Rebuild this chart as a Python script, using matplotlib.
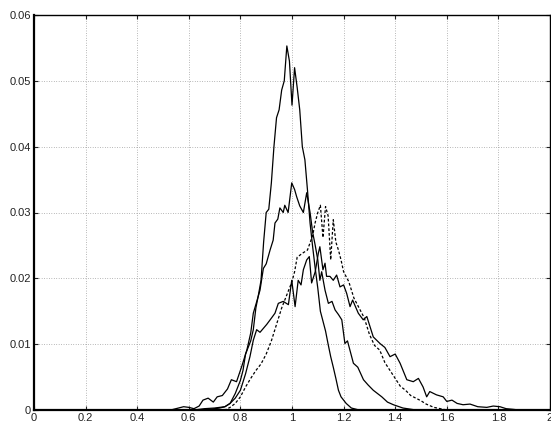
import matplotlib
matplotlib.use("Agg")
import matplotlib.pyplot as plt
import numpy as np

plt.rcParams['font.family'] = ['Liberation Sans', 'DejaVu Sans']

# tall narrow histogram (solid)
x_a = [0.0, 0.66, 0.70, 0.72, 0.74, 0.76, 0.78, 0.80, 0.81, 0.82, 0.84, 0.85, 0.86, 0.87,
       0.88, 0.89, 0.90, 0.91, 0.92, 0.93, 0.94, 0.95, 0.96, 0.97, 0.98, 0.99, 1.00, 1.01,
       1.02, 1.03, 1.04, 1.05, 1.06, 1.07, 1.08, 1.09, 1.10, 1.11, 1.12, 1.13, 1.14, 1.15,
       1.16, 1.17, 1.18, 1.19, 1.21, 1.23, 1.26, 2.0]
y_a = [0, 0, 0.0002, 0.0003, 0.0005, 0.001, 0.0025, 0.0045, 0.006, 0.0085, 0.0105, 0.0122,
       0.0155, 0.0175, 0.0197, 0.0255, 0.0300, 0.0305, 0.0345, 0.0400, 0.0444, 0.0456, 0.0486,
       0.0500, 0.0553, 0.0530, 0.0463, 0.0520, 0.0490, 0.0456, 0.0400, 0.0380, 0.0334, 0.0284,
       0.0248, 0.0215, 0.0185, 0.0150, 0.0135, 0.0120, 0.0100, 0.0081, 0.0065, 0.0048, 0.0030,
       0.0020, 0.0010, 0.0003, 0, 0]

# medium histogram (solid)
x_b = [0.0, 0.53, 0.56, 0.58, 0.60, 0.62, 0.64, 0.655, 0.675, 0.695, 0.71, 0.73, 0.75, 0.765,
       0.785, 0.805, 0.825, 0.84, 0.85, 0.865, 0.876, 0.889, 0.90, 0.915, 0.927, 0.934, 0.945,
       0.953, 0.966, 0.972, 0.985, 0.999, 1.01, 1.018, 1.03, 1.044, 1.057, 1.07, 1.08, 1.09,
       1.10, 1.108, 1.115, 1.128, 1.141, 1.155, 1.167, 1.18, 1.193, 1.205, 1.215, 1.238, 1.255,
       1.277, 1.295, 1.315, 1.348, 1.37, 1.393, 1.43, 1.48, 2.0]
y_b = [0, 0, 0.0003, 0.0005, 0.0004, 0.0002, 0.0006, 0.0015, 0.0018, 0.0012, 0.0020, 0.0022,
       0.0032, 0.0046, 0.0043, 0.0066, 0.0091, 0.0117, 0.0147, 0.0167, 0.0182, 0.0215, 0.0222,
       0.0243, 0.0258, 0.0284, 0.0290, 0.0307, 0.0300, 0.0311, 0.0300, 0.0345, 0.0335, 0.0324,
       0.0310, 0.0300, 0.0330, 0.0300, 0.0270, 0.0250, 0.0228, 0.0197, 0.0210, 0.0182, 0.0162,
       0.0165, 0.0152, 0.0145, 0.0137, 0.0101, 0.0105, 0.0071, 0.0065, 0.0046, 0.0038, 0.0030,
       0.0020, 0.0012, 0.0008, 0.0003, 0, 0]

# shifted histogram (dashed)
x_c = [0.0, 0.74, 0.76, 0.78, 0.80, 0.82, 0.84, 0.86, 0.88, 0.90, 0.92, 0.94, 0.96, 0.98,
       1.00, 1.01, 1.02, 1.04, 1.06, 1.08, 1.09, 1.10, 1.11, 1.12, 1.13, 1.14, 1.15, 1.16,
       1.17, 1.18, 1.19, 1.20, 1.22, 1.24, 1.26, 1.28, 1.30, 1.32, 1.34, 1.36, 1.38, 1.40,
       1.42, 1.44, 1.46, 1.48, 1.50, 1.52, 1.55, 1.60, 2.0]
y_c = [0, 0, 0.0004, 0.0010, 0.0020, 0.0035, 0.0048, 0.0060, 0.0070, 0.0085, 0.0105, 0.0130,
       0.0155, 0.0175, 0.0195, 0.0210, 0.0232, 0.0238, 0.0243, 0.0265, 0.0285, 0.0300, 0.0311,
       0.0262, 0.0309, 0.0295, 0.0228, 0.0289, 0.0255, 0.0243, 0.0228, 0.0210, 0.0195, 0.0170,
       0.0155, 0.0140, 0.0115, 0.0098, 0.0091, 0.0072, 0.0060, 0.0048, 0.0036, 0.0030, 0.0022,
       0.0018, 0.0014, 0.0009, 0.0004, 0, 0]

# wide low histogram (solid)
x_d = [0.0, 0.62, 0.66, 0.70, 0.74, 0.76, 0.78, 0.80, 0.82, 0.837, 0.85, 0.863, 0.876, 0.889,
       0.902, 0.921, 0.934, 0.947, 0.966, 0.986, 0.999, 1.012, 1.024, 1.035, 1.044, 1.057,
       1.067, 1.076, 1.09, 1.102, 1.108, 1.12, 1.128, 1.134, 1.147, 1.16, 1.173, 1.186, 1.20,
       1.212, 1.225, 1.235, 1.257, 1.276, 1.29, 1.315, 1.341, 1.36, 1.38, 1.40, 1.419, 1.445,
       1.47, 1.49, 1.508, 1.522, 1.534, 1.56, 1.586, 1.60, 1.62, 1.64, 1.663, 1.69, 1.72,
       1.755, 1.78, 1.806, 1.83, 1.857, 1.88, 2.0]
y_d = [0, 0, 0.0002, 0.0003, 0.0005, 0.0010, 0.0018, 0.0030, 0.0055, 0.0081, 0.0106, 0.0122,
       0.0118, 0.0124, 0.0130, 0.0140, 0.0147, 0.0162, 0.0165, 0.0160, 0.0197, 0.0157, 0.0197,
       0.0190, 0.0213, 0.0228, 0.0233, 0.0193, 0.0210, 0.0238, 0.0248, 0.0213, 0.0223, 0.0203,
       0.0203, 0.0197, 0.0205, 0.0187, 0.0190, 0.0177, 0.0157, 0.0167, 0.0147, 0.0137, 0.0142,
       0.0111, 0.0101, 0.0095, 0.0081, 0.0085, 0.0071, 0.0046, 0.0043, 0.0048, 0.0035, 0.0020,
       0.0028, 0.0023, 0.0020, 0.0013, 0.0015, 0.0010, 0.0008, 0.0009, 0.0005, 0.0004, 0.0006,
       0.0005, 0.0002, 0.0001, 0, 0]

x_ticks = [0, 0.2, 0.4, 0.6, 0.8, 1, 1.2, 1.4, 1.6, 1.8, 2]
x_labels = ['0', '0.2', '0.4', '0.6', '0.8', '1', '1.2', '1.4', '1.6', '1.8', '2']
y_ticks = [0, 0.01, 0.02, 0.03, 0.04, 0.05, 0.06]
y_labels = ['0', '0.01', '0.02', '0.03', '0.04', '0.05', '0.06']

fig = plt.figure(figsize=(5.51, 4.25), dpi=100)
ax = fig.add_axes([34 / 551, 15 / 425, 516 / 551, 395 / 425])

ax.plot(x_a, y_a, color='black', lw=0.9)
ax.plot(x_b, y_b, color='black', lw=0.9)
ax.plot(x_d, y_d, color='black', lw=0.9)
ax.plot(x_c, y_c, color='black', lw=0.9, dashes=(2.2, 1.6))

ax.set_xlim(0, 2)
ax.set_ylim(0, 0.06)
ax.set_xticks(x_ticks)
ax.set_xticklabels(x_labels)
ax.set_yticks(y_ticks)
ax.set_yticklabels(y_labels)

ax.grid(True, color='#777777', linestyle=(0, (1, 2.5)), linewidth=0.5)
ax.tick_params(direction='in', length=3, width=0.8, top=True, right=True,
               labelsize=8, pad=2, colors='#222222')
for side in ['left', 'bottom']:
    ax.spines[side].set_linewidth(1.6)
for side in ['top', 'right']:
    ax.spines[side].set_linewidth(1.0)

fig.savefig('out.png', dpi=100)
